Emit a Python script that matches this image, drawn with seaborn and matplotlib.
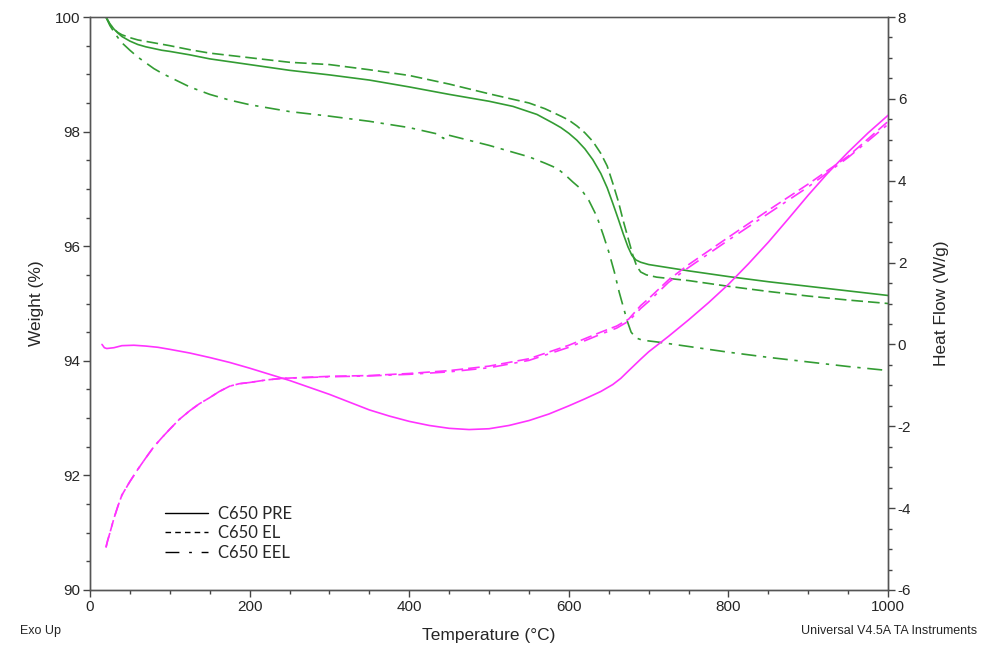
import matplotlib
matplotlib.use("Agg")
import matplotlib.pyplot as plt
import seaborn as sns
import pandas as pd
from matplotlib.ticker import MultipleLocator
from matplotlib.lines import Line2D

# Weight (%) curves, left axis
temp_pre = [20, 25, 30, 35, 40, 50, 60, 70, 80, 90, 100, 125, 150, 200, 250, 300, 350, 400,
            450, 500, 530, 560, 580, 590, 600, 610, 620, 630, 640, 648, 655, 662, 668, 674,
            679, 684, 690, 700, 750, 800, 850, 900, 950, 1000]
weight_pre = [100.0, 99.88, 99.79, 99.72, 99.66, 99.58, 99.52, 99.48, 99.45, 99.42, 99.40,
              99.34, 99.27, 99.17, 99.07, 98.99, 98.90, 98.78, 98.65, 98.53, 98.44, 98.30,
              98.15, 98.07, 97.97, 97.85, 97.70, 97.51, 97.27, 97.02, 96.75, 96.47, 96.22,
              95.99, 95.84, 95.76, 95.72, 95.68, 95.57, 95.47, 95.38, 95.30, 95.22, 95.14]
temp_el = [20, 25, 30, 35, 40, 50, 60, 80, 100, 125, 150, 200, 250, 300, 350, 400, 450, 500,
           550, 570, 590, 600, 610, 620, 630, 640, 648, 655, 662, 668, 674, 680, 685, 690,
           697, 710, 750, 800, 850, 900, 950, 1000]
weight_el = [100.0, 99.87, 99.79, 99.73, 99.69, 99.64, 99.6, 99.55, 99.5, 99.43, 99.37, 99.29,
             99.21, 99.17, 99.08, 98.98, 98.83, 98.66, 98.50, 98.40, 98.27, 98.20, 98.10,
             97.98, 97.83, 97.62, 97.40, 97.1, 96.78, 96.45, 96.15, 95.85, 95.65, 95.55,
             95.5, 95.46, 95.40, 95.30, 95.21, 95.13, 95.06, 95.0]
temp_eel = [20, 25, 30, 35, 40, 50, 60, 70, 80, 90, 100, 125, 150, 175, 200, 250, 300, 350,
            400, 435, 443, 446, 500, 530, 550, 570, 585, 595, 605, 615, 625, 635, 643, 650,
            657, 663, 668, 673, 678, 684, 692, 710, 750, 800, 850, 900, 950, 1000]
weight_eel = [100.0, 99.85, 99.74, 99.64, 99.55, 99.42, 99.3, 99.2, 99.1, 99.02, 98.95, 98.78,
              98.65, 98.55, 98.47, 98.35, 98.27, 98.18, 98.07, 97.96, 97.88, 97.95, 97.76,
              97.64, 97.56, 97.45, 97.36, 97.25, 97.12, 97.0, 96.8, 96.52, 96.2, 95.9, 95.55,
              95.2, 94.95, 94.7, 94.5, 94.4, 94.36, 94.33, 94.25, 94.15, 94.06, 93.98, 93.9,
              93.83]

# Heat flow (W/g) curves, right axis
temp_hf_pre = [15, 18, 21, 30, 40, 55, 70, 85, 100, 125, 150, 175, 200, 225, 250, 275, 300,
               325, 350, 375, 400, 425, 450, 475, 500, 525, 550, 575, 600, 620, 640, 655, 665,
               675, 690, 700, 725, 750, 775, 800, 825, 850, 875, 900, 925, 950, 975, 1000]
hf_pre = [0.0, -0.08, -0.1, -0.08, -0.03, -0.02, -0.04, -0.07, -0.12, -0.21, -0.32, -0.44,
          -0.58, -0.73, -0.88, -1.05, -1.22, -1.41, -1.6, -1.75, -1.88, -1.98, -2.05, -2.08,
          -2.06, -1.98, -1.86, -1.7, -1.5, -1.33, -1.15, -0.98, -0.83, -0.64, -0.36, -0.18,
          0.2, 0.6, 1.02, 1.47, 1.97, 2.5, 3.07, 3.65, 4.2, 4.7, 5.17, 5.6]
temp_hf = [20, 22, 25, 30, 35, 40, 50, 60, 70, 80, 90, 100, 112, 125, 137, 150, 162, 175, 187,
           200, 220, 240, 300, 350, 400, 450, 500, 550, 600, 640, 660, 675, 690, 700, 725,
           750, 800, 850, 900, 950, 1000]
hf_el = [-4.96, -4.8, -4.6, -4.25, -3.95, -3.68, -3.35, -3.05, -2.77, -2.5, -2.28, -2.07,
         -1.83, -1.62, -1.45, -1.3, -1.15, -1.02, -0.96, -0.93, -0.87, -0.83, -0.78, -0.76,
         -0.71, -0.64, -0.53, -0.35, -0.02, 0.3, 0.45, 0.62, 0.95, 1.12, 1.58, 1.95, 2.62,
         3.28, 3.92, 4.6, 5.45]
hf_eel = [-4.96, -4.8, -4.6, -4.25, -3.95, -3.68, -3.35, -3.05, -2.77, -2.5, -2.28, -2.07,
          -1.83, -1.62, -1.45, -1.3, -1.15, -1.02, -0.96, -0.93, -0.87, -0.83, -0.79, -0.77,
          -0.73, -0.67, -0.57, -0.39, -0.07, 0.25, 0.4, 0.57, 0.88, 1.05, 1.52, 1.88, 2.55,
          3.2, 3.85, 4.57, 5.38]

labels = ["C650 PRE", "C650 EL", "C650 EEL"]
green = "#339c33"
magenta = "#ff33ff"
dash = (0, (7, 3))
dashdot = (0, (9, 4, 2, 4))

sns.set_style("white")
plt.rcParams["font.family"] = ["Liberation Sans", "DejaVu Sans"]
plt.rcParams["axes.unicode_minus"] = False

fig = plt.figure(figsize=(9.89, 6.45), dpi=100)
ax = fig.add_axes([0.091, 0.0853, 0.807, 0.8883])
ax2 = ax.twinx()

w_pre = pd.DataFrame({"T": temp_pre, "w": weight_pre})
w_el = pd.DataFrame({"T": temp_el, "w": weight_el})
w_eel = pd.DataFrame({"T": temp_eel, "w": weight_eel})
kw = dict(lw=1.2, estimator=None, sort=False)
sns.lineplot(data=w_pre, x="T", y="w", ax=ax, color=green, **kw)
sns.lineplot(data=w_el, x="T", y="w", ax=ax, color=green, linestyle=dash, **kw)
sns.lineplot(data=w_eel, x="T", y="w", ax=ax, color=green, linestyle=dashdot, **kw)

h_pre = pd.DataFrame({"T": temp_hf_pre, "hf": hf_pre})
h_el = pd.DataFrame({"T": temp_hf, "hf": hf_el})
h_eel = pd.DataFrame({"T": temp_hf, "hf": hf_eel})
sns.lineplot(data=h_pre, x="T", y="hf", ax=ax2, color=magenta, **kw)
sns.lineplot(data=h_el, x="T", y="hf", ax=ax2, color=magenta, linestyle=dash, **kw)
sns.lineplot(data=h_eel, x="T", y="hf", ax=ax2, color=magenta, linestyle=dashdot, **kw)

ax.set_xlim(0, 1000)
ax.set_ylim(90, 100)
ax2.set_ylim(-6, 8)
ax.xaxis.set_major_locator(MultipleLocator(200))
ax.xaxis.set_minor_locator(MultipleLocator(50))
ax.yaxis.set_major_locator(MultipleLocator(2))
ax.yaxis.set_minor_locator(MultipleLocator(0.5))
ax2.yaxis.set_major_locator(MultipleLocator(2))
ax2.yaxis.set_minor_locator(MultipleLocator(0.5))

for a in (ax, ax2):
    a.tick_params(which="major", direction="out", length=5, width=1, color="#444444",
                  labelsize=11, pad=2)
    a.tick_params(which="minor", direction="out", length=3, width=1, color="#444444")
    for s in a.spines.values():
        s.set_color("#555555")
        s.set_linewidth(1)
ax.spines["top"].set_color("#999999")
ax.tick_params(axis="x", which="both", bottom=True)
ax.tick_params(axis="y", which="both", left=True)
ax2.tick_params(axis="y", which="both", right=True)

ax.set_xlabel("Temperature (°C)", fontsize=12.5, labelpad=10)
ax.set_ylabel("Weight (%)", fontsize=12.5, labelpad=8)
ax2.set_ylabel("Heat Flow (W/g)", fontsize=12.5, labelpad=16)

fig.text(0.02, 0.012, "Exo Up", fontsize=9, ha="left", va="bottom")
fig.text(0.988, 0.012, "Universal V4.5A TA Instruments", fontsize=9, ha="right", va="bottom")

handles = [Line2D([], [], color="black", lw=1, linestyle="-"),
           Line2D([], [], color="black", lw=1, linestyle=(0, (4, 3))),
           Line2D([], [], color="black", lw=1, linestyle=(0, (10, 7, 2, 7)))]
ax.legend(handles, labels, loc="lower left", bbox_to_anchor=(0.075, 0.025), frameon=False,
          prop={"family": "Lato", "size": 12}, handlelength=2.6, labelspacing=0.2,
          handletextpad=0.6)

fig.savefig("out.png", dpi=100)
